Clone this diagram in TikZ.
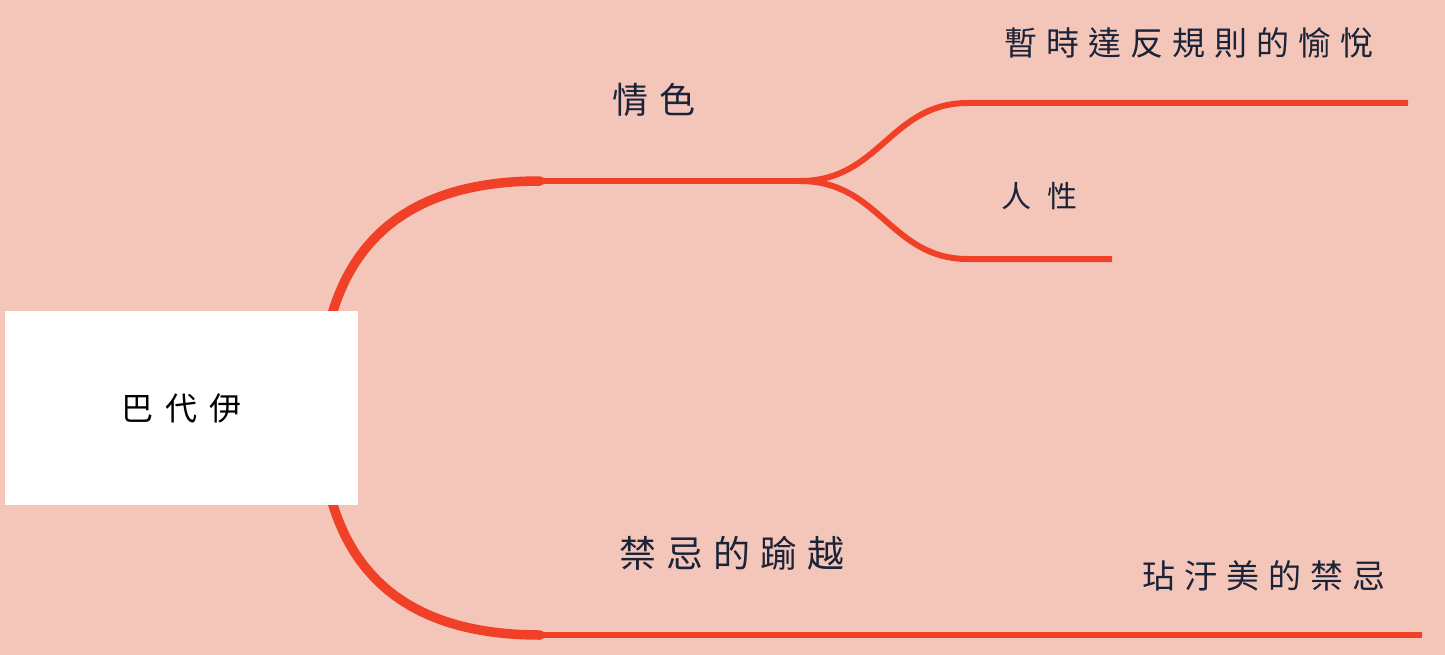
\documentclass[tikz,border=0pt]{standalone}
\usepackage{fontspec}
\newfontfamily\cjk{Noto Sans CJK TC}
\definecolor{bgc}{HTML}{F4C6BA}
\definecolor{linec}{HTML}{F04128}
\definecolor{txtc}{HTML}{1B2338}
\pgfdeclarelayer{back}
\pgfdeclarelayer{bg}
\pgfsetlayers{back,bg,main}
\begin{document}
\begin{tikzpicture}[x=1pt,y=-1pt,
  rootbox/.style={fill=white,draw=none,minimum width=353pt,minimum height=194pt,inner sep=0pt,font=\cjk\fontsize{32pt}{36pt}\selectfont,text=black},
  lbl/.style={inner sep=0pt,text=txtc},
  thickbranch/.style={draw=linec,line width=9.5pt,line cap=round},
  branch/.style={draw=linec,line width=6pt}]
\begin{pgfonlayer}{back}
\fill[bgc] (0,0) rectangle (1445,655);
\end{pgfonlayer}
\node[rootbox] (root) at (181.5,408) {巴\hspace{12pt}代\hspace{12pt}伊};
\coordinate (s1) at (320,408);
\coordinate (a) at (540,181);
\coordinate (b) at (800,181);
\coordinate (c) at (968,103);
\coordinate (c2) at (1408,103);
\coordinate (d) at (968,259);
\coordinate (d2) at (1112,259);
\coordinate (e) at (540,635);
\coordinate (e2) at (1422,635);
\node[lbl,font=\cjk\fontsize{36pt}{40pt}\selectfont] (qs) at (654,100) {情\hspace{12pt}色};
\node[lbl,font=\cjk\fontsize{33pt}{37pt}\selectfont] (zs) at (1189,43) {暫\hspace{9pt}時\hspace{9pt}達\hspace{9pt}反\hspace{9pt}規\hspace{9pt}則\hspace{9pt}的\hspace{9pt}愉\hspace{9pt}悅};
\node[lbl,font=\cjk\fontsize{30pt}{34pt}\selectfont] (rx) at (1039,196) {人\hspace{16pt}性};
\node[lbl,font=\cjk\fontsize{37pt}{41pt}\selectfont] (jj) at (732,553) {禁\hspace{10pt}忌\hspace{10pt}的\hspace{10pt}踰\hspace{10pt}越};
\node[lbl,font=\cjk\fontsize{33pt}{37pt}\selectfont] (dw) at (1264,576) {玷\hspace{9pt}汙\hspace{9pt}美\hspace{9pt}的\hspace{9pt}禁\hspace{9pt}忌};
\begin{pgfonlayer}{bg}
\draw[thickbranch] (s1) .. controls (320,250) and (400,181) .. (a);
\draw[branch] (a) -- (b);
\draw[branch] (b) .. controls (880,181) and (890,103) .. (c) -- (c2);
\draw[branch] (b) .. controls (880,181) and (890,259) .. (d) -- (d2);
\draw[thickbranch] (s1) .. controls (320,566) and (400,635) .. (e);
\draw[branch] (e) -- (e2);
\end{pgfonlayer}
\end{tikzpicture}
\end{document}
